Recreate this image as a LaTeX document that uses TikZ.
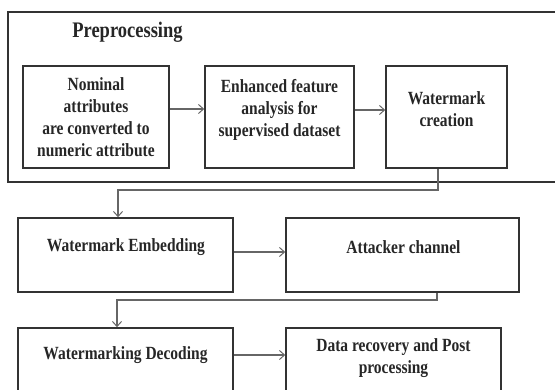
\documentclass[tikz,border=0pt]{standalone}
\usepackage{fontspec}
\setmainfont{Liberation Serif}
\usetikzlibrary{arrows.meta}
\tikzset{
  boxnode/.style={draw=black!80, line width=1.6pt, rectangle, inner sep=0pt},
  txt/.style={font=\bfseries\fontsize{15.5}{18.5}\selectfont, text=black!85, align=center, inner sep=0pt, yscale=1.2, transform shape},
  conn/.style={draw=black!60, line width=1.1pt, -{Straight Barb[length=5pt,width=9pt,line width=1pt]}},
}
\begin{document}
\begin{tikzpicture}[x=1pt,y=-1pt]
\useasboundingbox (0,0) rectangle (555,390);
\clip (0,0) rectangle (555,390);
% outer preprocessing frame
\draw[black!80, line width=1.8pt] (560,12) -- (8,12) -- (8,182) -- (560,182);
\node[txt, font=\bfseries\fontsize{18.5}{22}\selectfont] (pre) at (127.5,32) {Preprocessing};
% boxes
\node[boxnode, minimum width=146pt, minimum height=102pt] (b1) at (96,117) {};
\node[boxnode, minimum width=149pt, minimum height=102pt] (b2) at (279.5,117) {};
\node[boxnode, minimum width=121pt, minimum height=102pt] (b3) at (446.5,117) {};
\node[boxnode, minimum width=215pt, minimum height=74pt] (b4) at (125.5,255) {};
\node[boxnode, minimum width=233pt, minimum height=74pt] (b5) at (402.5,255) {};
\node[boxnode, minimum width=215pt, minimum height=74pt] (b6) at (125.5,365) {};
\node[boxnode, minimum width=215pt, minimum height=74pt] (b7) at (393.5,365) {};
% texts
\node[txt] (t1) at (96,117) {Nominal\\attributes\\are converted to\\numeric attribute};
\node[txt] (t2) at (279.5,110) {Enhanced feature\\analysis for\\supervised dataset};
\node[txt] (t3) at (446.5,109) {Watermark\\creation};
\node[txt] (t4) at (126,247) {Watermark Embedding};
\node[txt] (t5) at (403.5,247) {Attacker channel};
\node[txt] (t6) at (125.5,355) {Watermarking Decoding};
\node[txt] (t7) at (393.5,358) {Data recovery and Post\\processing};
% connectors
\draw[conn] ([yshift=8pt]b1.east) -- ([yshift=8pt]b2.west);
\draw[conn] ([yshift=7pt]b2.east) -- ([yshift=7pt]b3.west);
\coordinate (c1) at (118,190);
\draw[conn] ([xshift=-8.5pt]b3.south) |- (c1) -- (c1 |- b4.north);
\draw[conn] ([yshift=3pt]b4.east) -- ([yshift=3pt]b5.west);
\coordinate (c2) at (117,300);
\draw[conn] ([xshift=34.5pt]b5.south) |- (c2) -- (c2 |- b6.north);
\draw[conn] ([yshift=10pt]b6.east) -- ([yshift=10pt]b7.west);
\end{tikzpicture}
\end{document}
